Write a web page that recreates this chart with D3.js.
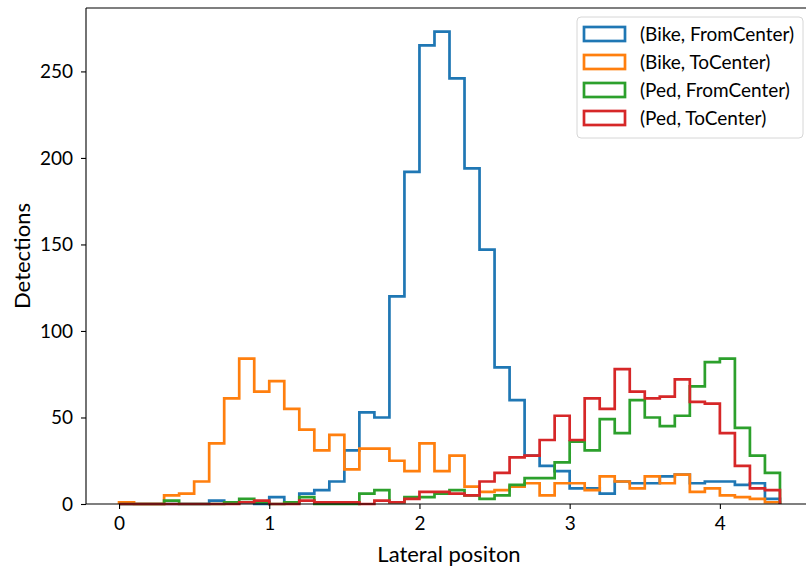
<!DOCTYPE html>
<html>
<head>
<meta charset="utf-8">
<script src="https://cdn.jsdelivr.net/npm/d3@7"></script>
<style>
  html, body { margin: 0; padding: 0; background: #fff; }
  svg { display: block; }
  text { font-family: Lato, "Open Sans", sans-serif; fill: #000; }
</style>
</head>
<body>
<svg id="chart" width="806" height="572"></svg>
<script>
// Histogram bins: 44 bins of width 0.1 on [0, 4.4]
const binStart = 0;
const binWidth = 0.1;

// Detection counts per bin
const bikeFromCenter = [0, 0, 0, 0, 0, 0, 2, 1, 1, 0, 4, 1, 6, 8, 13, 31, 53, 50, 120, 192,
  265, 273, 246, 194, 147, 79, 60, 28, 22, 19, 9, 9, 6, 13, 12, 12, 16, 17, 12, 13,
  13, 11, 12, 3];
const bikeToCenter = [1, 0, 0, 5, 6, 13, 35, 61, 84, 65, 71, 55, 43, 31, 40, 20, 32, 32, 25, 19,
  35, 19, 28, 10, 7, 8, 10, 12, 5, 12, 12, 8, 16, 13, 9, 16, 12, 17, 7, 9,
  5, 4, 3, 1];
const pedFromCenter = [0, 0, 0, 2, 0, 0, 0, 1, 3, 1, 0, 1, 4, 0, 0, 0, 6, 8, 1, 4,
  4, 6, 8, 5, 3, 5, 11, 15, 15, 24, 36, 31, 49, 41, 60, 50, 45, 51, 68, 82,
  84, 44, 28, 18];
const pedToCenter = [0, 0, 0, 0, 0, 0, 0, 0, 1, 2, 0, 0, 2, 1, 1, 1, 0, 2, 1, 3,
  7, 7, 6, 5, 13, 18, 27, 28, 37, 51, 37, 61, 55, 78, 65, 61, 62, 72, 59, 58,
  41, 22, 9, 8];

const seriesNames = ["(Bike, FromCenter)", "(Bike, ToCenter)", "(Ped, FromCenter)", "(Ped, ToCenter)"];
const seriesValues = [bikeFromCenter, bikeToCenter, pedFromCenter, pedToCenter];
const seriesColors = ["#1f77b4", "#ff7f0e", "#2ca02c", "#d62728"];

const xTicks = [0, 1, 2, 3, 4];
const yTicks = [0, 50, 100, 150, 200, 250];
const xLabel = "Lateral positon";
const yLabel = "Detections";

const svg = d3.select("#chart");
const plot = { left: 86, right: 813, top: 8, bottom: 504 };

const nBins = bikeFromCenter.length;
const binEnd = binStart + nBins * binWidth;
const span = binEnd - binStart;
const yMax = d3.max(seriesValues.flat()) * 1.05;

const x = d3.scaleLinear()
  .domain([binStart - 0.05 * span, binEnd + 0.05 * span])
  .range([plot.left, plot.right]);
const y = d3.scaleLinear()
  .domain([0, yMax])
  .range([plot.bottom, plot.top]);

// Step outline of one histogram series
function stepPoints(values) {
  const pts = [[binStart, 0]];
  values.forEach((v, i) => {
    const a = binStart + i * binWidth;
    pts.push([a, v], [a + binWidth, v]);
  });
  pts.push([binEnd, 0]);
  return pts;
}
const line = d3.line().x(d => x(d[0])).y(d => y(d[1]));

const marks = svg.append("g");
seriesValues.forEach((vals, i) => {
  marks.append("path")
    .attr("d", line(stepPoints(vals)))
    .attr("fill", "none")
    .attr("stroke", seriesColors[i])
    .attr("stroke-width", 2.7)
    .attr("stroke-linejoin", "miter")
    .attr("stroke-linecap", "butt");
});

// Spines
const spines = svg.append("g").attr("stroke", "#000").attr("stroke-width", 1.1);
spines.append("line").attr("x1", plot.left).attr("x2", plot.left).attr("y1", plot.top).attr("y2", plot.bottom);
spines.append("line").attr("x1", plot.left).attr("x2", plot.right).attr("y1", plot.top).attr("y2", plot.top);
spines.append("line").attr("x1", plot.left).attr("x2", plot.right).attr("y1", plot.bottom).attr("y2", plot.bottom);

// Axes
const xAxis = svg.append("g")
  .attr("transform", `translate(0,${plot.bottom})`)
  .call(d3.axisBottom(x).tickValues(xTicks).tickFormat(d3.format("d")).tickSize(5).tickPadding(8));
const yAxis = svg.append("g")
  .attr("transform", `translate(${plot.left},0)`)
  .call(d3.axisLeft(y).tickValues(yTicks).tickFormat(d3.format("d")).tickSize(5).tickPadding(8));
[xAxis, yAxis].forEach(g => {
  g.select(".domain").remove();
  g.selectAll(".tick line").attr("stroke", "#000").attr("stroke-width", 1.1);
  g.selectAll(".tick text").attr("font-size", 19).attr("font-family", "Lato, sans-serif").attr("fill", "#000");
});

svg.append("text")
  .attr("x", (plot.left + 813) / 2 - 0.5)
  .attr("y", 562)
  .attr("text-anchor", "middle")
  .attr("font-size", 22)
  .text(xLabel);
svg.append("text")
  .attr("transform", `translate(30,${(plot.top + plot.bottom) / 2}) rotate(-90)`)
  .attr("text-anchor", "middle")
  .attr("font-size", 22)
  .text(yLabel);

// Legend
const legend = svg.append("g").attr("transform", "translate(577,17)");
legend.append("rect")
  .attr("width", 226).attr("height", 121).attr("rx", 4)
  .attr("fill", "#fff").attr("fill-opacity", 0.8)
  .attr("stroke", "#d6d6d6").attr("stroke-width", 1);
seriesNames.forEach((name, i) => {
  const row = legend.append("g").attr("transform", `translate(0,${17 + i * 28})`);
  row.append("rect")
    .attr("x", 7).attr("y", -7).attr("width", 41).attr("height", 14)
    .attr("fill", "none").attr("stroke", seriesColors[i]).attr("stroke-width", 2.7);
  row.append("text")
    .attr("x", 63).attr("y", 0).attr("dy", "0.35em")
    .attr("font-size", 19)
    .text(name);
});
</script>
</body>
</html>
